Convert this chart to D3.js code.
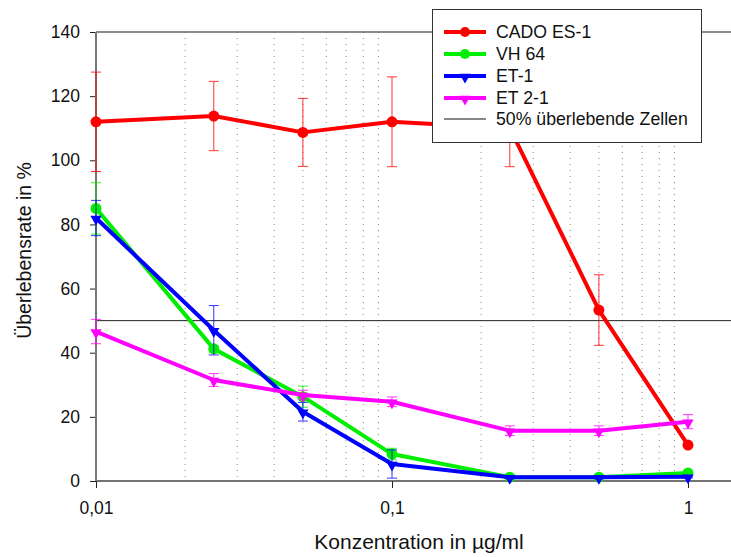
<!DOCTYPE html>
<html>
<head>
<meta charset="utf-8">
<script src="https://cdn.jsdelivr.net/npm/d3@7"></script>
<style>
  html, body { margin: 0; padding: 0; background: #fff; }
  svg { display: block; font-family: "Liberation Sans", Arial, Helvetica, sans-serif; }
</style>
</head>
<body>
<svg id="chart" width="731" height="557"></svg>
<script>
// Concentrations (µg/ml)
const concentrations = [0.01, 0.025, 0.05, 0.1, 0.25, 0.5, 1];

// Survival rate (%) per cell line, with standard deviation
const cadoValues = [112, 113.8, 108.7, 112, 110, 53.3, 11.2];
const cadoErrors = [15.5, 10.8, 10.6, 14, 12, 11, 0.5];
const vhValues   = [85, 41.2, 26.3, 8.4, 1.2, 1.2, 2.5];
const vhErrors   = [8, 1, 3.3, 1.8, 0.3, 0.3, 0.5];
const et1Values  = [82, 47, 21.6, 5.3, 1.2, 1.2, 1.3];
const et1Errors  = [5.5, 7.7, 2.9, 4.4, 0.3, 0.3, 0.3];
const et21Values = [46.6, 31.5, 26.8, 24.7, 15.7, 15.7, 18.5];
const et21Errors = [3.8, 2, 1.5, 1.5, 1.5, 1.5, 2.2];

const seriesNames = ["CADO ES-1", "VH 64", "ET-1", "ET 2-1"];
const referenceLabel = "50% überlebende Zellen";
const referenceValue = 50;

const yTicks = [0, 20, 40, 60, 80, 100, 120, 140];
const xTicks = [0.01, 0.1, 1];
const xMinorTicks = [0.02, 0.03, 0.04, 0.05, 0.06, 0.07, 0.08, 0.09,
                     0.2, 0.3, 0.4, 0.5, 0.6, 0.7, 0.8, 0.9];

const series = [
  { name: seriesNames[0], values: cadoValues, errors: cadoErrors, color: "#ff0000", symbol: "circle" },
  { name: seriesNames[1], values: vhValues,   errors: vhErrors,   color: "#00ee00", symbol: "circle" },
  { name: seriesNames[2], values: et1Values,  errors: et1Errors,  color: "#0000ff", symbol: "triangle" },
  { name: seriesNames[3], values: et21Values, errors: et21Errors, color: "#ff00ff", symbol: "triangle" }
];

const svg = d3.select("#chart");
const plotLeft = 96, plotRight = 731, plotTop = 32, plotBottom = 481;

const x = d3.scaleLog().domain([0.01, 1]).range([plotLeft, 688]);
const y = d3.scaleLinear().domain([0, 140]).range([plotBottom, plotTop]);

const de = d3.formatLocale({ decimal: ",", thousands: ".", grouping: [3], currency: ["", " €"] });
const fmtX = d => de.format("~g")(d);

// Dotted minor grid lines
svg.append("g").selectAll("line").data(xMinorTicks).join("line")
  .attr("x1", d => x(d)).attr("x2", d => x(d))
  .attr("y1", plotTop).attr("y2", plotBottom)
  .attr("stroke", "#888").attr("stroke-width", 1)
  .attr("stroke-dasharray", "1,5");

// Frame line at the top
svg.append("line").attr("x1", plotLeft).attr("x2", plotRight).attr("y1", plotTop).attr("y2", plotTop)
  .attr("stroke", "#666").attr("stroke-width", 1.3);

// 50% reference line
svg.append("line").attr("x1", plotLeft).attr("x2", plotRight)
  .attr("y1", y(referenceValue)).attr("y2", y(referenceValue))
  .attr("stroke", "#222").attr("stroke-width", 1);

// Axes
const yAxis = svg.append("g").attr("transform", `translate(${plotLeft},0)`)
  .call(d3.axisLeft(y).tickValues(yTicks).tickSize(6).tickPadding(10));
yAxis.select(".domain").remove();
yAxis.selectAll(".tick line").attr("stroke", "#222");
yAxis.selectAll("text").attr("font-size", 17.5).attr("fill", "#111");

const xAxis = svg.append("g").attr("transform", `translate(0,${plotBottom})`)
  .call(d3.axisBottom(x).tickValues(xTicks).tickFormat(fmtX).tickSize(7).tickPadding(14));
xAxis.select(".domain").remove();
xAxis.selectAll(".tick line").attr("stroke", "#222");
xAxis.selectAll("text").attr("font-size", 17.5).attr("fill", "#111");

svg.append("line").attr("x1", plotLeft).attr("x2", plotRight).attr("y1", plotBottom).attr("y2", plotBottom)
  .attr("stroke", "#444").attr("stroke-width", 1.5);
svg.append("line").attr("x1", plotLeft).attr("x2", plotLeft).attr("y1", plotTop).attr("y2", plotBottom)
  .attr("stroke", "#777").attr("stroke-width", 2);

// Axis titles
svg.append("text").attr("x", 419).attr("y", 549).attr("text-anchor", "middle")
  .attr("font-size", 21).attr("fill", "#111").text("Konzentration in µg/ml");
svg.append("text").attr("transform", "translate(31,250.5) rotate(-90)")
  .attr("text-anchor", "middle").attr("font-size", 19.5).attr("fill", "#111")
  .text("Überlebensrate in %");

const triangle = d3.symbol().type(d3.symbolTriangle).size(55);

function drawMarker(g, s, cx, cy, r) {
  if (s.symbol === "circle") {
    g.append("circle").attr("cx", cx).attr("cy", cy).attr("r", r).attr("fill", s.color);
  } else {
    g.append("path").attr("d", triangle())
      .attr("transform", `translate(${cx},${cy + 1}) rotate(180)`)
      .attr("fill", s.color);
  }
}

const line = d3.line().x(d => x(d[0])).y(d => y(d[1]));

series.forEach(s => {
  const g = svg.append("g");
  const pts = concentrations.map((c, i) => [c, s.values[i], s.errors[i]]);
  g.append("path").datum(pts).attr("d", line)
    .attr("fill", "none").attr("stroke", s.color).attr("stroke-width", 4)
    .attr("stroke-linejoin", "round");
  pts.forEach(p => drawMarker(g, s, x(p[0]), y(p[1]), 5.5));
  // error bars
  const eb = g.append("g").attr("stroke", s.color).attr("stroke-width", 1).attr("opacity", 0.8);
  pts.forEach(p => {
    const cx = x(p[0]);
    const y1 = y(p[1] + p[2]), y2 = y(p[1] - p[2]);
    eb.append("line").attr("x1", cx).attr("x2", cx).attr("y1", y1).attr("y2", y2);
    eb.append("line").attr("x1", cx - 5).attr("x2", cx + 5).attr("y1", y1).attr("y2", y1);
    eb.append("line").attr("x1", cx - 5).attr("x2", cx + 5).attr("y1", y2).attr("y2", y2);
  });
});

// Legend
const lg = svg.append("g");
lg.append("rect").attr("x", 432.5).attr("y", 9.5).attr("width", 269).attr("height", 133)
  .attr("fill", "#fff").attr("stroke", "#333").attr("stroke-width", 1);
const rowY = [32, 54, 76, 98, 119];
series.forEach((s, i) => {
  lg.append("line").attr("x1", 444).attr("x2", 486).attr("y1", rowY[i]).attr("y2", rowY[i])
    .attr("stroke", s.color).attr("stroke-width", 4);
  drawMarker(lg, s, 465, rowY[i], 5);
  lg.append("text").attr("x", 496).attr("y", rowY[i]).attr("dy", "0.35em")
    .attr("font-size", 17.7).attr("fill", "#111").text(s.name);
});
lg.append("line").attr("x1", 444).attr("x2", 486).attr("y1", rowY[4]).attr("y2", rowY[4])
  .attr("stroke", "#111").attr("stroke-width", 1);
lg.append("text").attr("x", 496).attr("y", rowY[4]).attr("dy", "0.35em")
  .attr("font-size", 17.7).attr("fill", "#111").text(referenceLabel);
</script>
</body>
</html>
